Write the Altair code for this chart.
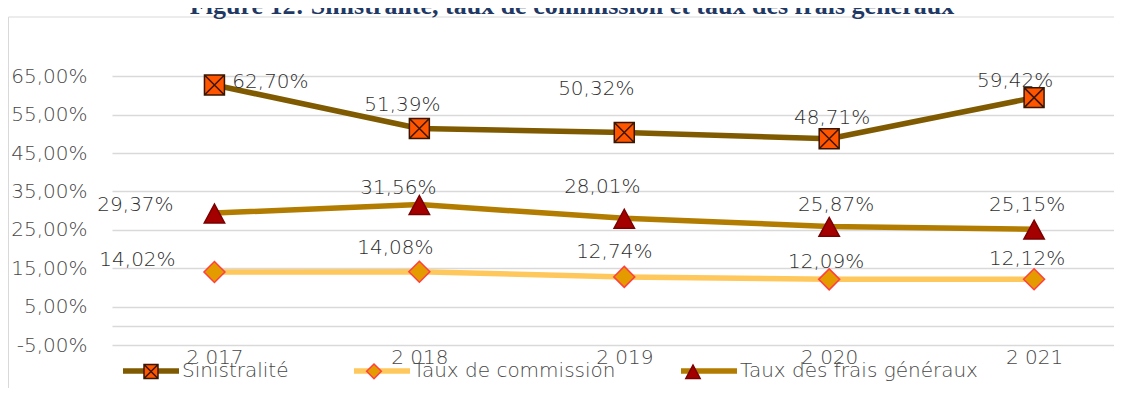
import altair as alt
import pandas as pd

# ---- data ----
annees = [2017, 2018, 2019, 2020, 2021]
series = ["Sinistralité", "Taux de commission", "Taux des frais généraux"]
sinistralite = [62.70, 51.39, 50.32, 48.71, 59.42]
commission = [14.02, 14.08, 12.74, 12.09, 12.12]
frais = [29.37, 31.56, 28.01, 25.87, 25.15]
y_ticks = [-5, 0, 5, 15, 25, 35, 45, 55, 65]
titre = "Figure 12: Sinistralité, taux de commission et taux des frais généraux"

# label placement (pixel offsets of each data label from its point)
label_dx = {
    "Sinistralité": [56, -17, -28, 3, -19],
    "Taux de commission": [-77, -24, -10, -3, -7],
    "Taux des frais généraux": [-79, -21, -22, 7, -7],
}
label_dy = {
    "Sinistralité": [-3, -23, -44, -21, -17],
    "Taux de commission": [-12, -24, -25, -17, -20],
    "Taux des frais généraux": [-8, -17, -31, -21, -24],
}

# ---- styles ----
line_colors = ["#7F5A00", "#FFC85C", "#B27C00"]
marker_fill = ["#FF5500", "#E39B00", "#A50000"]
marker_stroke = ["#3A1600", "#FF4040", "#7A0000"]
marker_paths = [
    "M-0.333,-0.333H0.333V0.333H-0.333ZM-0.333,-0.333L0.333,0.333M0.333,-0.333L-0.333,0.333",
    "M0,-0.35L0.35,0L0,0.35L-0.35,0Z",
    "M0,-0.3L0.34,0.33L-0.34,0.33Z",
]
FONT = "DejaVu Sans"
FW = 200
AXIS_GREY = "#474747"
LABEL_GREY = "#2E2E2E"
W, H = 1002, 288

rows = []
for s, vals in zip(series, [sinistralite, commission, frais]):
    for a, v in zip(annees, vals):
        rows.append({"annee": a, "serie": s, "serie_m": s, "valeur": v,
                     "texte": f"{v:.2f}".replace(".", ",") + "%"})
df = pd.DataFrame(rows)

X = alt.X("annee:Q",
          scale=alt.Scale(domain=[2016.5, 2021.39], nice=False, zero=False),
          axis=alt.Axis(values=annees, title=None, grid=False, domain=False, ticks=False,
                        labelExpr="slice(toString(datum.value),0,1) + ' ' + slice(toString(datum.value),1)",
                        labelFont=FONT, labelFontSize=20, labelFontWeight=FW, labelColor=AXIS_GREY,
                        labelPadding=2, labelFlush=False, labelOverlap=False))
Y = alt.Y("valeur:Q",
          scale=alt.Scale(domain=[-5, 70], nice=False, zero=False),
          axis=alt.Axis(values=y_ticks, title=None, domain=False, ticks=False,
                        grid=True, gridColor="#D9D9D9", gridWidth=1.5,
                        labelExpr="datum.value == 0 ? '' : (datum.value < 0 ? '-' : '') + replace(format(abs(datum.value), '.2f'), '.', ',') + '%'",
                        labelFont=FONT, labelFontSize=20, labelFontWeight=FW, labelColor=AXIS_GREY,
                        labelPadding=25))

LEG_X, LEG_Y, LEG_PAD = 8, 283, 54
legA = alt.Legend(title=None, orient="none", legendX=LEG_X, legendY=LEG_Y,
                  direction="horizontal", columnPadding=LEG_PAD, padding=0,
                  labelFont=FONT, labelFontSize=20, labelFontWeight=FW, labelColor=AXIS_GREY,
                  labelOffset=0, labelLimit=500,
                  symbolType="stroke", symbolSize=3136, symbolStrokeWidth=5.5)
legB = alt.Legend(title=None, orient="none", legendX=LEG_X + 9, legendY=LEG_Y + 9,
                  direction="horizontal", columnPadding=LEG_PAD, padding=0,
                  labelFont=FONT, labelFontSize=20, labelFontWeight=FW, labelColor=AXIS_GREY,
                  labelOffset=18, labelLimit=500, labelOpacity=0,
                  symbolSize=1764, symbolStrokeWidth=1.5)

base = alt.Chart(df)

lines = base.mark_line(strokeWidth=5.5, strokeCap="round", strokeJoin="round").encode(
    x=X, y=Y,
    color=alt.Color("serie:N", scale=alt.Scale(range=line_colors), legend=legA),
)

points = base.mark_point(filled=True, size=3600, strokeWidth=1.5, opacity=1).encode(
    x=X, y=Y,
    shape=alt.Shape("serie_m:N", scale=alt.Scale(range=marker_paths), legend=legB),
    fill=alt.Fill("serie_m:N", scale=alt.Scale(range=marker_fill), legend=legB),
    stroke=alt.Stroke("serie_m:N", scale=alt.Scale(range=marker_stroke), legend=legB),
)

labels = []
for s in series:
    for i, a in enumerate(annees):
        labels.append(
            base.transform_filter((alt.datum.serie == s) & (alt.datum.annee == a))
            .mark_text(dx=label_dx[s][i], dy=label_dy[s][i], font=FONT, fontSize=20,
                       fontWeight=FW, color=LABEL_GREY, align="center", baseline="middle")
            .encode(x=X, y=Y, text="texte:N")
        )

frame_df = pd.DataFrame({"k": [0]})
frame_top = alt.Chart(frame_df).mark_rule(color="#D9D9D9", strokeWidth=1).encode(
    x=alt.value(-103.5), x2=alt.value(W), y=alt.value(-40))
frame_left = alt.Chart(frame_df).mark_rule(color="#D9D9D9", strokeWidth=1).encode(
    x=alt.value(-103.5), y=alt.value(-40), y2=alt.value(331))

chart = alt.layer(frame_top, frame_left, lines, points, *labels).properties(
    width=W, height=H,
    title=alt.TitleParams(text=titre, font="Liberation Serif", fontSize=26, fontWeight="bold",
                          color="#1F3864", anchor="middle", frame="group", dx=-41, dy=18,
                          offset=-5, baseline="alphabetic"),
    padding={"left": 104, "top": 49, "right": 0, "bottom": 43},
    autosize=alt.AutoSizeParams(type="none"),
).configure_view(stroke=None)

chart.save("out.html", embed_options={"renderer": "svg", "actions": False})
